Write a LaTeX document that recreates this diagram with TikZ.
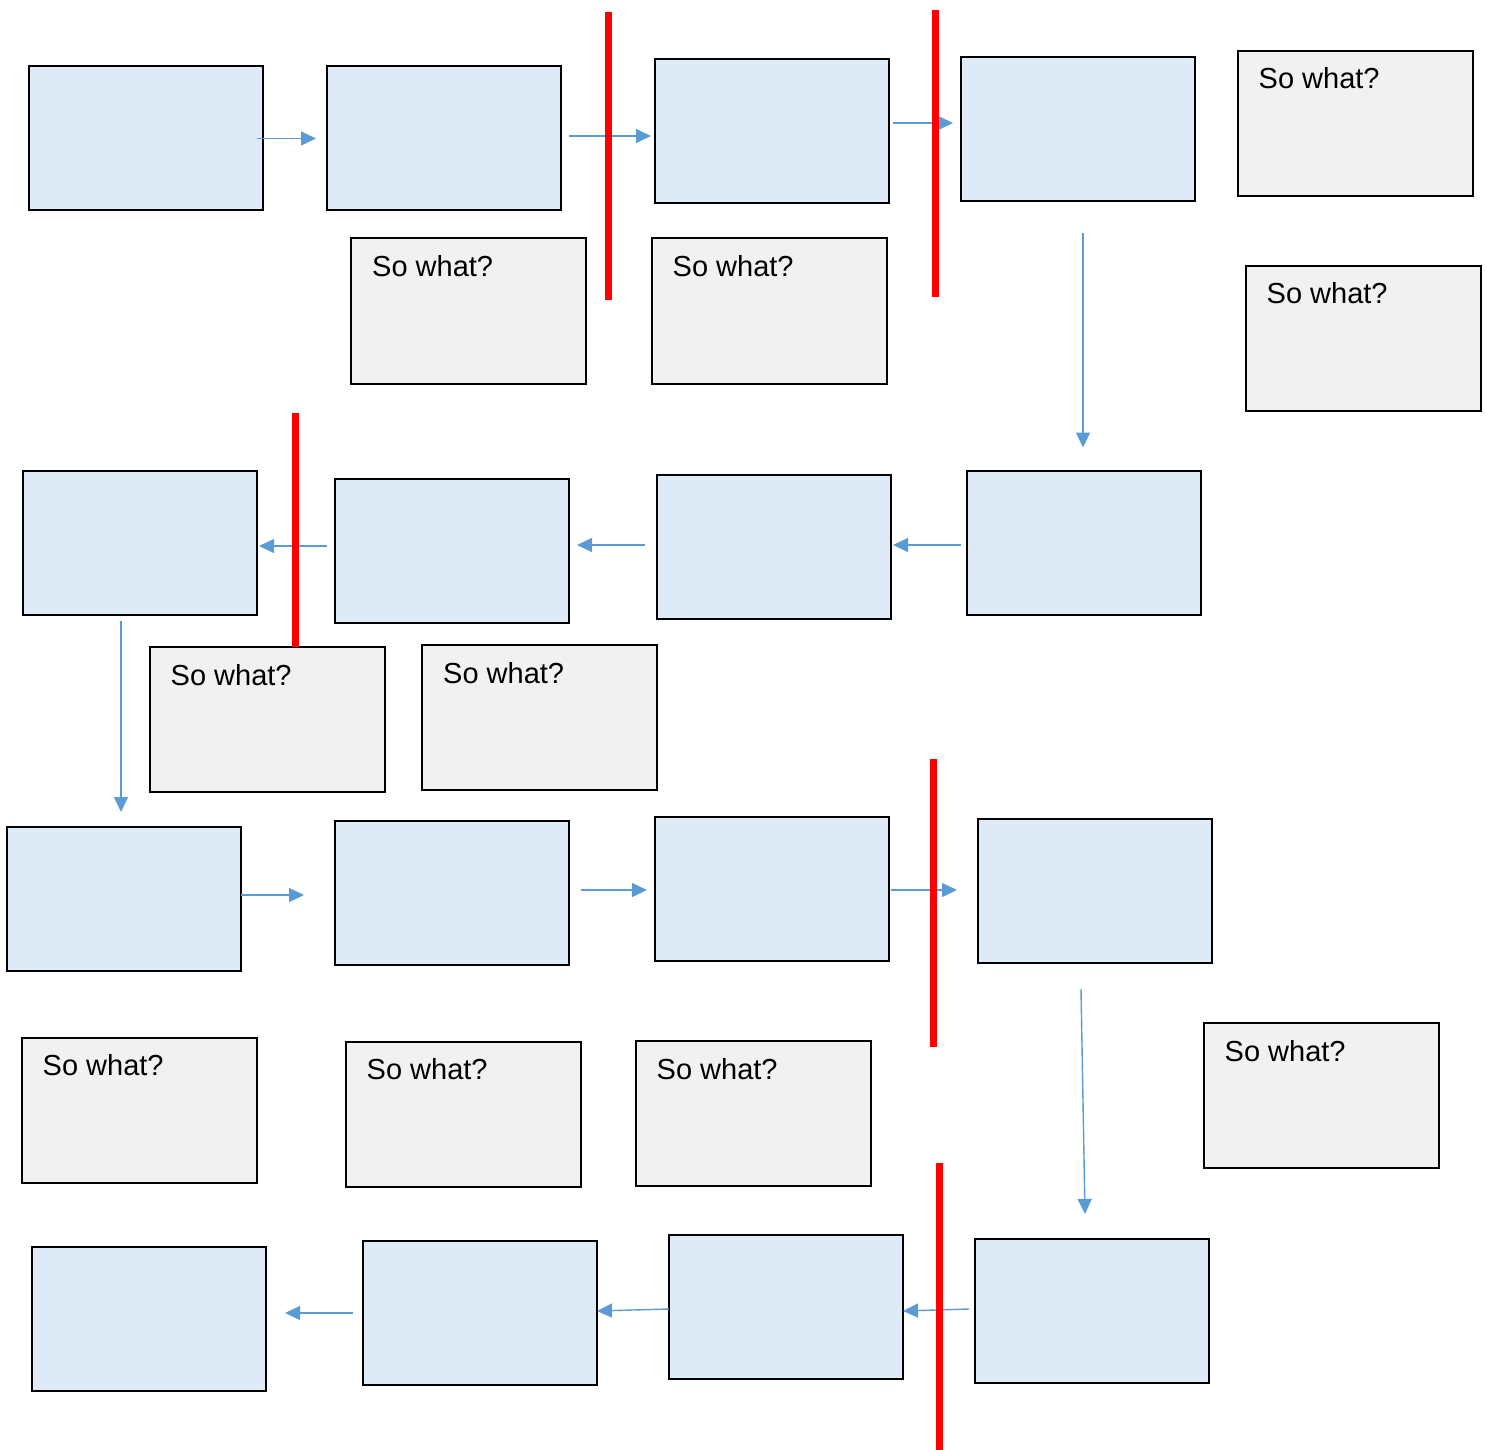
\documentclass[tikz,border=0pt]{standalone}
\usepackage{fontspec}
\setmainfont{Liberation Sans}
\usetikzlibrary{arrows.meta,calc}
\definecolor{boxblue}{HTML}{DEEAF6}
\definecolor{boxgray}{HTML}{F1F1F1}
\definecolor{arrowblue}{HTML}{5B9BD5}
\definecolor{barred}{HTML}{FF0000}
\tikzset{
  bluebox/.style={draw=black, line width=2pt, fill=boxblue, minimum width=234pt, minimum height=144pt, inner sep=0pt, outer sep=0pt},
  graybox/.style={draw=black, line width=2pt, fill=boxgray, minimum width=235pt, minimum height=145pt, inner sep=0pt, outer sep=0pt},
  sowhat/.style={anchor=base west, inner sep=0pt, font=\fontsize{29}{34}\selectfont},
  flow/.style={draw=arrowblue, line width=1.4pt, -{Triangle[length=15pt,width=14pt]}},
  redbar/.style={draw=barred, line width=7pt}
}
\begin{document}
\begin{tikzpicture}[x=1pt,y=-1pt]
\useasboundingbox (0,0) rectangle (1486,1450);
% blue boxes
\node[bluebox] (b1) at (146,138.5) {};
\node[bluebox] (b2) at (444,138.5) {};
\node[bluebox] (b3) at (772,131) {};
\node[bluebox] (b4) at (1078,129) {};
\node[bluebox] (b5) at (1084,542.5) {};
\node[bluebox] (b6) at (774,547) {};
\node[bluebox] (b7) at (452,551) {};
\node[bluebox] (b8) at (140,543) {};
\node[bluebox] (b9) at (124,899) {};
\node[bluebox] (b10) at (452,893) {};
\node[bluebox] (b11) at (772,889) {};
\node[bluebox] (b12) at (1095,891) {};
\node[bluebox] (b13) at (1092,1311) {};
\node[bluebox] (b14) at (786,1307) {};
\node[bluebox] (b15) at (480,1313) {};
\node[bluebox] (b16) at (149,1319) {};
% gray boxes
\node[graybox] (g1) at (1355,123.5) {};
\node[graybox] (g2) at (468.5,311) {};
\node[graybox] (g3) at (769,311) {};
\node[graybox] (g4) at (1363,338) {};
\node[graybox] (g5) at (267,719.5) {};
\node[graybox] (g6) at (539.5,717.5) {};
\node[graybox] (g7) at (139,1110) {};
\node[graybox] (g8) at (463,1114) {};
\node[graybox] (g9) at (753,1113.5) {};
\node[graybox] (g10) at (1321,1095.5) {};
\foreach \g in {g1,g2,g3,g4,g5,g6,g7,g8,g9,g10}{
  \node[sowhat] (t\g) at ($(\g.north west)+(21,38)$) {So what?};
}
% arrows
\draw[flow] ($(b1.east)+(-6,0)$) -- ($(b2.west)+(-11,0)$);
\draw[flow] ($(b2.east)+(8,-2.5)$) -- ($(b3.west)+(-4,5)$);
\draw[flow] ($(b3.east)+(4,-8)$) -- ($(b4.west)+(-8,-6)$);
\draw[flow] ($(b4.south)+(5,32)$) -- ($(b5.north)+(-1,-23)$);
\draw[flow] ($(b5.west)+(-6,2.5)$) -- ($(b6.east)+(2,-2)$);
\draw[flow] ($(b6.west)+(-12,-2)$) -- ($(b7.east)+(8,-6)$);
\draw[flow] ($(b7.west)+(-8,-5)$) -- ($(b8.east)+(2,3)$);
\draw[flow] ($(b8.south)+(-19,6)$) -- ($(b9.north)+(-3,-15)$);
\draw[flow] ($(b9.east)+(0,-4)$) -- ($(b10.west)+(-31,2)$);
\draw[flow] ($(b10.east)+(12,-3)$) -- ($(b11.west)+(-8,1)$);
\draw[flow] ($(b11.east)+(2,1)$) -- ($(b12.west)+(-21,-1)$);
\draw[flow] ($(b12.south)+(-14,26)$) -- ($(b13.north)+(-7,-25)$);
\draw[flow] ($(b13.west)+(-6,-2)$) -- ($(b14.east)+(0,4)$);
\draw[flow] ($(b14.west)+(0,2)$) -- ($(b15.east)+(0,-2)$);
\draw[flow] ($(b15.west)+(-10,0)$) -- ($(b16.east)+(19,-6)$);
% red bars
\draw[redbar] (608,12) -- (608,300);
\draw[redbar] (935,10) -- (935,297);
\draw[redbar] (295,413) -- (295,647);
\draw[redbar] (933,759) -- (933,1047);
\draw[redbar] (939,1163) -- (939,1450);
\end{tikzpicture}
\end{document}
